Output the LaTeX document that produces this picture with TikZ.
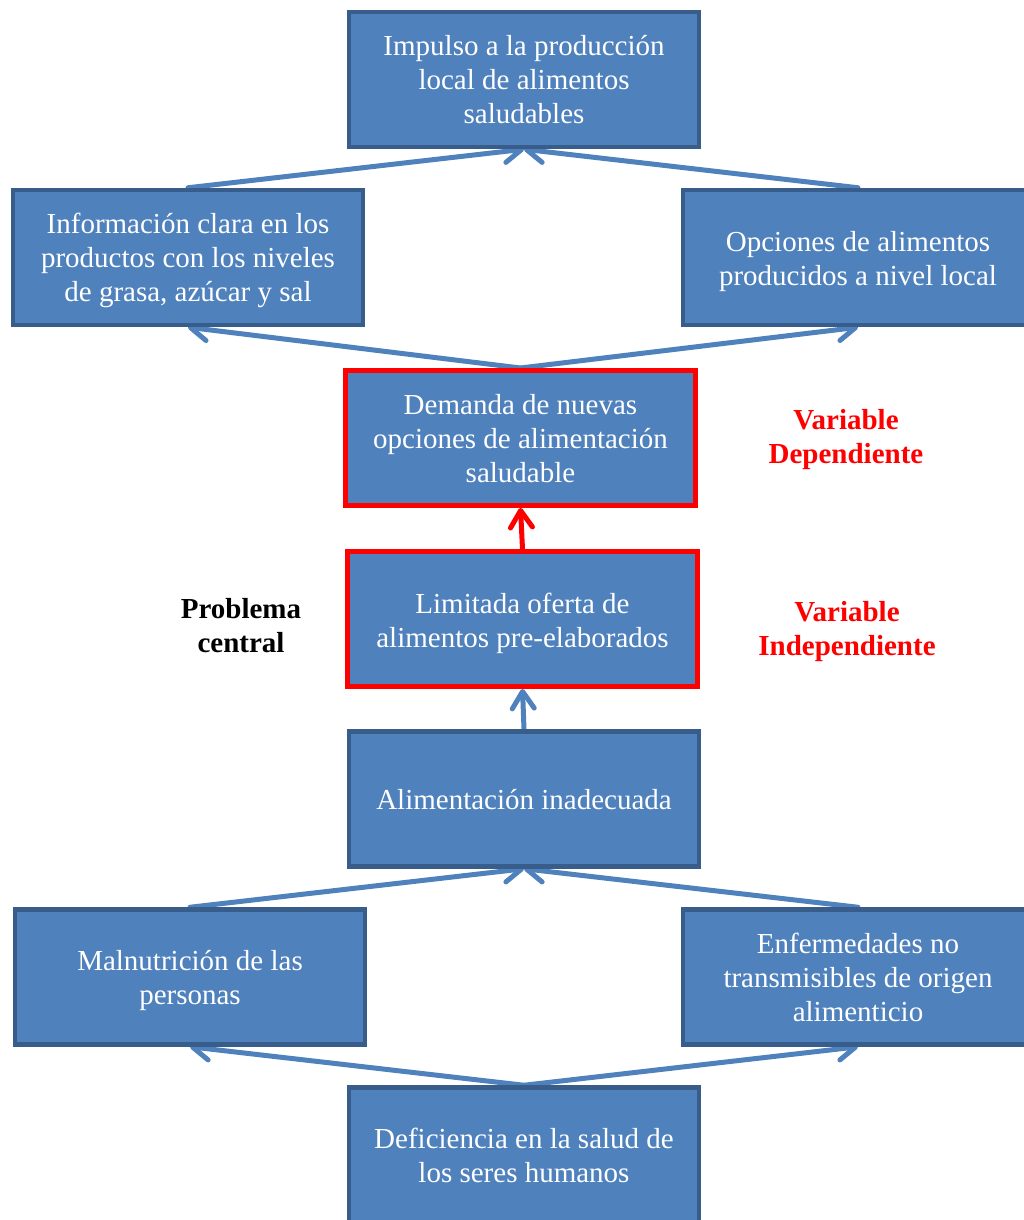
\documentclass[tikz,border=0pt]{standalone}
\usepackage{fontspec}
\setmainfont{Liberation Serif}
\usetikzlibrary{arrows.meta,backgrounds}
\definecolor{boxfill}{HTML}{4F81BD}
\definecolor{boxline}{HTML}{385D8A}
\definecolor{redline}{HTML}{FF0000}
\tikzset{
  x=1pt, y=-1pt,
  box/.style={draw=boxline, line width=4.5pt, fill=boxfill,
    minimum width=350pt, minimum height=135pt, inner sep=0pt},
  redbox/.style={box, draw=redline, line width=5pt},
  boxtext/.style={text=white, align=center, inner sep=0pt,
    font=\fontsize{29}{34}\selectfont},
  conn/.style={draw=boxfill, line width=5pt, line cap=round,
    -{Straight Barb[round, length=17pt, width=22pt]}},
  redconn/.style={conn, draw=redline},
  lbl/.style={font=\fontsize{29}{34}\selectfont\bfseries, align=center},
}
\begin{document}
\begin{tikzpicture}
\useasboundingbox (0,0) rectangle (1024,1220);
\clip (0,0) rectangle (1024,1220);
\node[box, label={[boxtext]center:{Impulso a la producción\\local de alimentos\\saludables}}] (imp) at (524,79.5) {};
\node[box, label={[boxtext, yshift=-3pt]center:{Información clara en los\\productos con los niveles\\de grasa, azúcar y sal}}] (info) at (188,257.5) {};
\node[box, label={[boxtext, yshift=-4pt]center:{Opciones de alimentos\\producidos a nivel local}}] (opc) at (858,257.5) {};
\node[redbox, label={[boxtext, yshift=-1pt]center:{Demanda de nuevas\\opciones de alimentación\\saludable}}] (dem) at (520.5,438) {};
\node[redbox, label={[boxtext, yshift=-4pt]center:{Limitada oferta de\\alimentos pre-elaborados}}] (lim) at (522.5,619) {};
\node[box, label={[boxtext, yshift=-1pt]center:{Alimentación inadecuada}}] (ali) at (524,799) {};
\node[box, label={[boxtext, yshift=-3.5pt]center:{Malnutrición de las\\personas}}] (mal) at (190,977) {};
\node[box, label={[boxtext]center:{Enfermedades no\\transmisibles de origen\\alimenticio}}] (enf) at (858,977) {};
\node[box, label={[boxtext]center:{Deficiencia en la salud de\\los seres humanos}}] (def) at (524,1155) {};
\node[lbl, text=redline] (vdep) at (846,440) {Variable\\Dependiente};
\node[lbl, text=redline] (vind) at (847,632) {Variable\\Independiente};
\node[lbl, text=black] (prob) at (241,625.5) {Problema\\central};
\begin{scope}[on background layer]
\draw[conn] (info.north) -- (imp.south);
\draw[conn] (opc.north) -- (imp.south);
\draw[conn] (dem.north) -- (info.south);
\draw[conn] (dem.north) -- (opc.south);
\draw[conn] (ali.north) -- (lim.south);
\draw[conn] (mal.north) -- (ali.south);
\draw[conn] (enf.north) -- (ali.south);
\draw[conn] (def.north) -- (mal.south);
\draw[conn] (def.north) -- (enf.south);
\end{scope}
\draw[redconn] (lim.north) -- (dem.south);
\end{tikzpicture}
\end{document}
